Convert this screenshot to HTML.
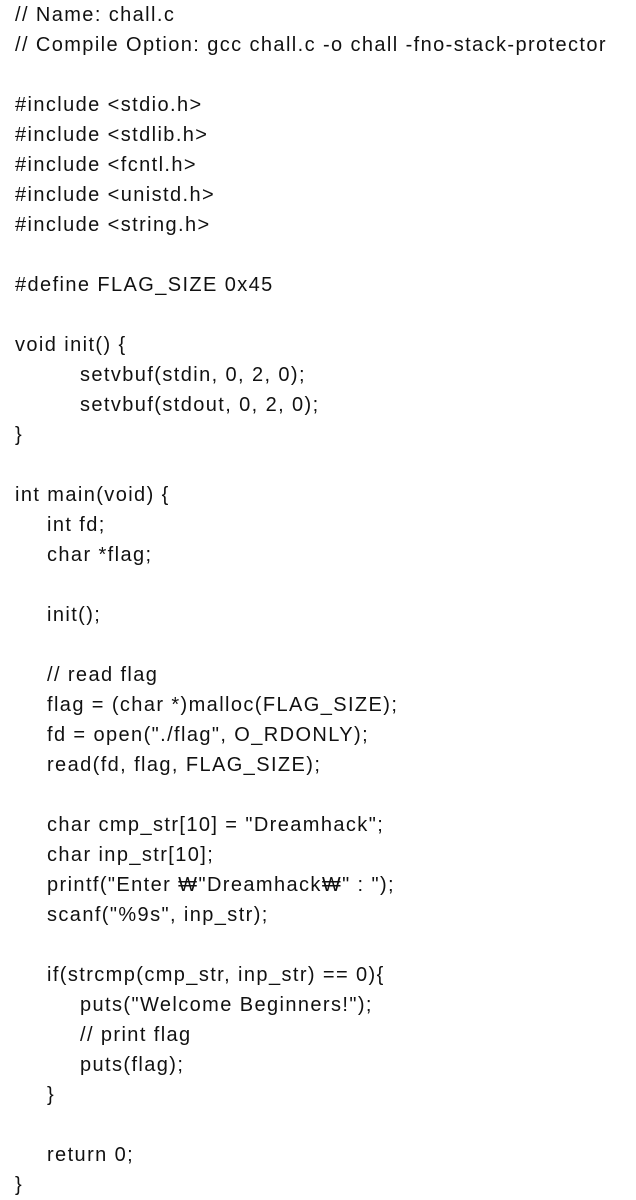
<!DOCTYPE html>
<html><head><meta charset="utf-8"><style>
html,body{margin:0;padding:0;background:#fff;width:636px;height:1195px;overflow:hidden}
pre{margin:0;position:absolute;left:15px;top:0px;font-family:"Liberation Sans","NanumGothic","Noto Sans CJK KR",sans-serif;font-size:20px;letter-spacing:1.4px;line-height:30px;color:#111;white-space:pre}
.i1{padding-left:32px}.i2{padding-left:65px}
div{height:30px}
</style></head><body>
<pre><div>// Name: chall.c</div><div>// Compile Option: gcc chall.c -o chall -fno-stack-protector</div><div></div><div>#include &lt;stdio.h&gt;</div><div>#include &lt;stdlib.h&gt;</div><div>#include &lt;fcntl.h&gt;</div><div>#include &lt;unistd.h&gt;</div><div>#include &lt;string.h&gt;</div><div></div><div>#define FLAG_SIZE 0x45</div><div></div><div>void init() {</div><div class="i2">setvbuf(stdin, 0, 2, 0);</div><div class="i2">setvbuf(stdout, 0, 2, 0);</div><div>}</div><div></div><div>int main(void) {</div><div class="i1">int fd;</div><div class="i1">char *flag;</div><div></div><div class="i1">init();</div><div></div><div class="i1">// read flag</div><div class="i1">flag = (char *)malloc(FLAG_SIZE);</div><div class="i1">fd = open("./flag", O_RDONLY);</div><div class="i1">read(fd, flag, FLAG_SIZE);</div><div></div><div class="i1">char cmp_str[10] = "Dreamhack";</div><div class="i1">char inp_str[10];</div><div class="i1">printf("Enter ₩"Dreamhack₩" : ");</div><div class="i1">scanf("%9s", inp_str);</div><div></div><div class="i1">if(strcmp(cmp_str, inp_str) == 0){</div><div class="i2">puts("Welcome Beginners!");</div><div class="i2">// print flag</div><div class="i2">puts(flag);</div><div class="i1">}</div><div></div><div class="i1">return 0;</div><div>}</div></pre>
</body></html>
